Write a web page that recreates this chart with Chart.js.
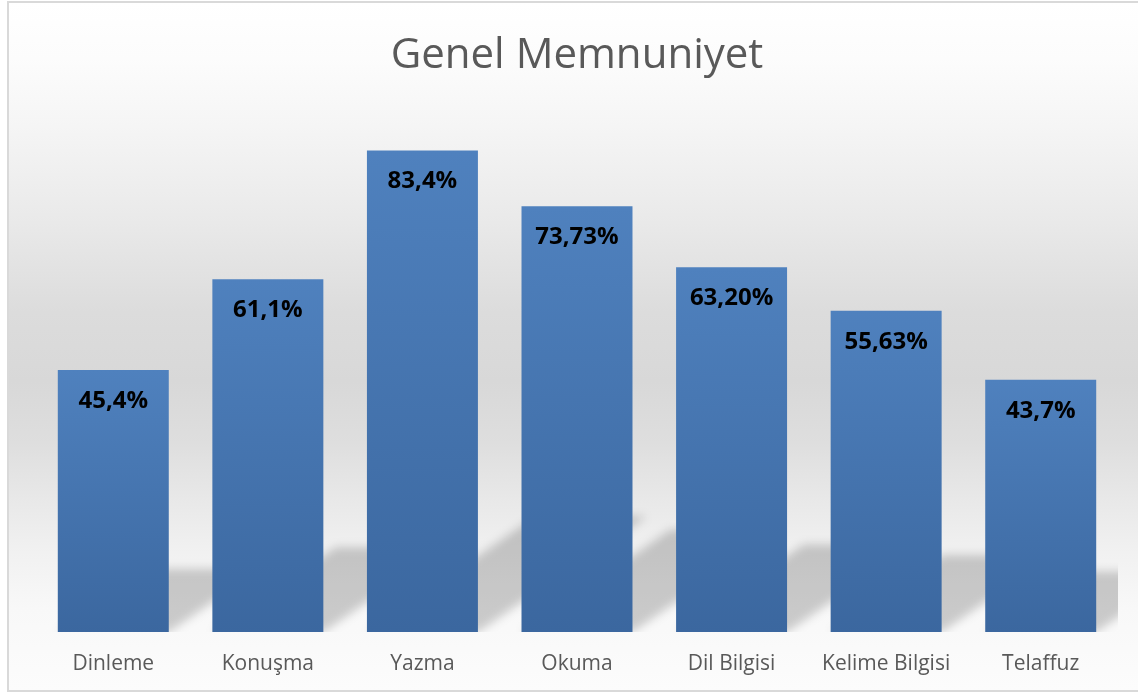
<!DOCTYPE html>
<html>
<head>
<meta charset="utf-8">
<script src="https://cdn.jsdelivr.net/npm/chart.js@4"></script>
<style>
  body { margin: 0; background: #ffffff; overflow: hidden; }
  #box {
    position: absolute; left: 7px; top: 1px; width: 1160px; height: 687px;
    border: 2px solid #d9d9d9;
    background: linear-gradient(to bottom, #ffffff 0%, #fcfcfc 8%, #f5f5f5 18%, #e9e9e9 32%, #dcdcdc 45%, #d8d8d8 55%, #dedede 64%, #e8e8e8 72%, #f1f1f1 80%, #f8f8f8 88%, #fcfcfc 100%);
  }
  #chart { display: block; }
</style>
</head>
<body>
<div id="box"><canvas id="chart" width="1129" height="687"></canvas></div>
<script>
// Chart data
const categories = ["Dinleme", "Konuşma", "Yazma", "Okuma", "Dil Bilgisi", "Kelime Bilgisi", "Telaffuz"];
const values = [45.4, 61.1, 83.4, 73.73, 63.20, 55.63, 43.7];
const valueLabels = ["45,4%", "61,1%", "83,4%", "73,73%", "63,20%", "55,63%", "43,7%"];

// Perspective shadow behind each bar
const shadowPlugin = {
  id: 'barShadow',
  beforeDatasetsDraw(chart) {
    const ctx = chart.ctx;
    const area = chart.chartArea;
    const meta = chart.getDatasetMeta(0);
    ctx.save();
    ctx.beginPath();
    ctx.rect(area.left, area.top, area.right - area.left, area.bottom - area.top);
    ctx.clip();
    ctx.filter = 'blur(5px)';
    ctx.fillStyle = 'rgba(0,0,0,0.19)';
    for (const bar of meta.data) {
      let h = bar.base - bar.y;
      let x0 = bar.x - bar.width / 2;
      let x1 = bar.x + bar.width / 2;
      let dx = h * 0.35, dy = h * 0.24;
      ctx.beginPath();
      ctx.moveTo(x0, bar.base);
      ctx.lineTo(x1, bar.base);
      ctx.lineTo(x1 + dx, bar.base - dy);
      ctx.lineTo(x0 + dx, bar.base - dy);
      ctx.closePath();
      ctx.fill();
    }
    ctx.restore();
  }
};

// Value labels inside the top of the bars
const labelPlugin = {
  id: 'valueLabels',
  afterDatasetsDraw(chart) {
    const ctx = chart.ctx;
    const meta = chart.getDatasetMeta(0);
    ctx.save();
    ctx.font = 'bold 24px "Open Sans"';
    ctx.fillStyle = '#000000';
    ctx.textAlign = 'center';
    ctx.textBaseline = 'middle';
    meta.data.forEach((bar, i) => {
      ctx.fillText(valueLabels[i], bar.x, bar.y + 31);
    });
    ctx.restore();
  }
};

function barGradient(context) {
  const chart = context.chart;
  const y = chart.scales.y;
  if (!chart.chartArea || !y) return '#4a7ab5';
  const top = y.getPixelForValue(values[context.dataIndex]);
  const base = y.getPixelForValue(0);
  const g = chart.ctx.createLinearGradient(0, top, 0, base);
  g.addColorStop(0, '#4f81be');
  g.addColorStop(1, '#3b679f');
  return g;
}

new Chart(document.getElementById('chart'), {
  type: 'bar',
  data: {
    labels: categories,
    datasets: [{
      data: values,
      backgroundColor: barGradient,
      borderWidth: 0,
      categoryPercentage: 1,
      barPercentage: 0.718
    }]
  },
  plugins: [shadowPlugin, labelPlugin],
  options: {
    responsive: false,
    animation: false,
    layout: { padding: { left: 27, right: 20, top: 0, bottom: 0 } },
    plugins: {
      legend: { display: false },
      tooltip: { enabled: false },
      title: {
        display: true,
        text: 'Genel Memnuniyet',
        color: '#595959',
        font: { family: 'Open Sans', size: 42, weight: 'normal', lineHeight: 1.2 },
        padding: { top: 28, bottom: 31 }
      }
    },
    scales: {
      x: {
        grid: { display: false, drawTicks: false },
        border: { display: false },
        ticks: { color: '#595959', padding: 19, font: { family: 'Open Sans', size: 21 } },
        afterFit(scale) { scale.height = 58; }
      },
      y: {
        display: false,
        min: 0,
        max: 90
      }
    }
  }
});
</script>
</body>
</html>
